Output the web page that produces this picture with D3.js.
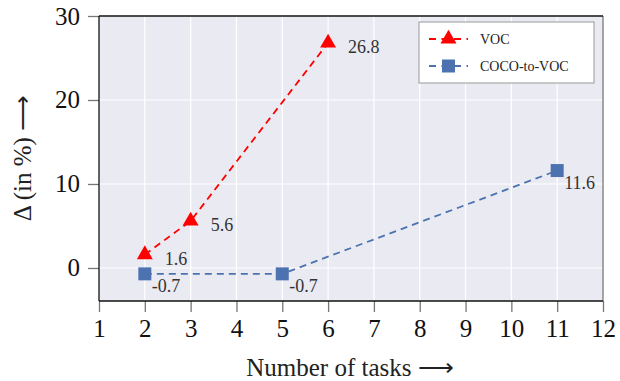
<!DOCTYPE html>
<html>
<head>
<meta charset="utf-8">
<script src="https://cdn.jsdelivr.net/npm/d3@7"></script>
<style>
  body { margin: 0; background: #fff; }
  text { font-family: 'Liberation Serif', serif; }
</style>
</head>
<body>
<div id="chart"></div>
<script>
// data
const vocTasks = [2, 3, 6];
const vocDelta = [1.6, 5.6, 26.8];
const cocoTasks = [2, 5, 11];
const cocoDelta = [-0.7, -0.7, 11.6];
const xTicks = [1, 2, 3, 4, 5, 6, 7, 8, 9, 10, 11, 12];
const yTicks = [0, 10, 20, 30];

const width = 620;
const height = 381;
const margin = { top: 16, right: 17, bottom: 80, left: 99 };
const yMin = -3.93;

const svg = d3.select('#chart').append('svg')
  .attr('width', width)
  .attr('height', height);

const x = d3.scaleLinear().domain([1, 12]).range([margin.left, width - margin.right]);
const y = d3.scaleLinear().domain([yMin, 30]).range([height - margin.bottom, margin.top]);

// plot background
svg.append('rect')
  .attr('x', x(1)).attr('y', y(30))
  .attr('width', x(12) - x(1)).attr('height', y(yMin) - y(30))
  .attr('fill', '#eaeaf2');

// grid
const grid = svg.append('g');
grid.selectAll('.vx').data(xTicks.slice(1, -1)).enter().append('line')
  .attr('x1', (d) => x(d)).attr('x2', (d) => x(d))
  .attr('y1', y(30)).attr('y2', y(yMin))
  .attr('stroke', '#fff').attr('stroke-width', 1.2);
grid.selectAll('.hy').data(yTicks).enter().append('line')
  .attr('x1', x(1)).attr('x2', x(12))
  .attr('y1', (d) => y(d)).attr('y2', (d) => y(d))
  .attr('stroke', '#fff').attr('stroke-width', 1.2);

// axes
const xAxis = svg.append('g')
  .attr('transform', `translate(0,${y(yMin)})`)
  .call(d3.axisBottom(x).tickValues(xTicks).tickSize(11).tickPadding(7));
const yAxis = svg.append('g')
  .attr('transform', `translate(${x(1)},0)`)
  .call(d3.axisLeft(y).tickValues(yTicks).tickSize(11).tickPadding(8));

[xAxis, yAxis].forEach((a) => {
  a.select('.domain').remove();
  a.selectAll('.tick line').attr('stroke', '#777').attr('stroke-width', 1.3);
  a.selectAll('.tick text')
    .style('font-family', "'Liberation Serif', serif")
    .style('font-size', '25px')
    .attr('fill', '#111');
});

// spines
svg.append('line').attr('x1', x(12)).attr('x2', x(12)).attr('y1', y(30)).attr('y2', y(yMin))
  .attr('stroke', '#888').attr('stroke-width', 1.5);
svg.append('line').attr('x1', x(1)).attr('x2', x(12)).attr('y1', y(30)).attr('y2', y(30))
  .attr('stroke', '#111').attr('stroke-width', 1.3);
svg.append('line').attr('x1', x(1)).attr('x2', x(12)).attr('y1', y(yMin)).attr('y2', y(yMin))
  .attr('stroke', '#111').attr('stroke-width', 1.3);
svg.append('line').attr('x1', x(1)).attr('x2', x(1)).attr('y1', y(30)).attr('y2', y(yMin))
  .attr('stroke', '#111').attr('stroke-width', 1.3);

// axis titles
svg.append('text')
  .attr('x', 350).attr('y', 376)
  .attr('text-anchor', 'middle')
  .style('font-size', '25px')
  .attr('fill', '#222')
  .text('Number of tasks ⟶');

svg.append('text')
  .attr('transform', 'translate(31,158) rotate(-90)')
  .attr('text-anchor', 'middle')
  .style('font-size', '25px')
  .attr('fill', '#222')
  .text('Δ (in %) ⟶');

// series
const series = [
  {
    name: 'VOC', tasks: vocTasks, delta: vocDelta, color: '#ff0000', symbol: d3.symbolTriangle, size: 110,
    dx: 20, dy: 10,
  },
  {
    name: 'COCO-to-VOC', tasks: cocoTasks, delta: cocoDelta, color: '#4c72b0', symbol: d3.symbolSquare, size: 169,
    dx: 7, dy: 18,
  },
];

const line = d3.line().x((d) => x(d[0])).y((d) => y(d[1]));

series.forEach((s) => {
  const pts = s.tasks.map((t, i) => [t, s.delta[i]]);
  svg.append('path')
    .datum(pts)
    .attr('d', line)
    .attr('fill', 'none')
    .attr('stroke', s.color)
    .attr('stroke-width', 1.8)
    .attr('stroke-dasharray', '7,5');
  svg.selectAll(null).data(pts).enter().append('path')
    .attr('transform', (d) => `translate(${x(d[0])},${y(d[1])})`)
    .attr('d', d3.symbol().type(s.symbol).size(s.size))
    .attr('fill', s.color);
  svg.selectAll(null).data(pts).enter().append('text')
    .attr('x', (d) => x(d[0]) + s.dx)
    .attr('y', (d) => y(d[1]) + s.dy)
    .style('font-size', '18px')
    .attr('fill', '#333')
    .text((d) => d[1]);
});

// legend
const legend = svg.append('g').attr('transform', 'translate(419,22)');
legend.append('rect')
  .attr('width', 175).attr('height', 61)
  .attr('fill', '#fff').attr('stroke', '#999').attr('stroke-width', 1);
series.forEach((s, i) => {
  const ly = 17 + i * 27;
  legend.append('line')
    .attr('x1', 10).attr('x2', 49).attr('y1', ly).attr('y2', ly)
    .attr('stroke', s.color).attr('stroke-width', 1.8)
    .attr('stroke-dasharray', '7,5.5');
  legend.append('path')
    .attr('transform', `translate(29.5,${ly})`)
    .attr('d', d3.symbol().type(s.symbol).size(s.size))
    .attr('fill', s.color);
  legend.append('text')
    .attr('x', 61).attr('y', ly + 5)
    .style('font-size', '14px')
    .attr('fill', '#222')
    .text(s.name);
});
</script>
</body>
</html>
